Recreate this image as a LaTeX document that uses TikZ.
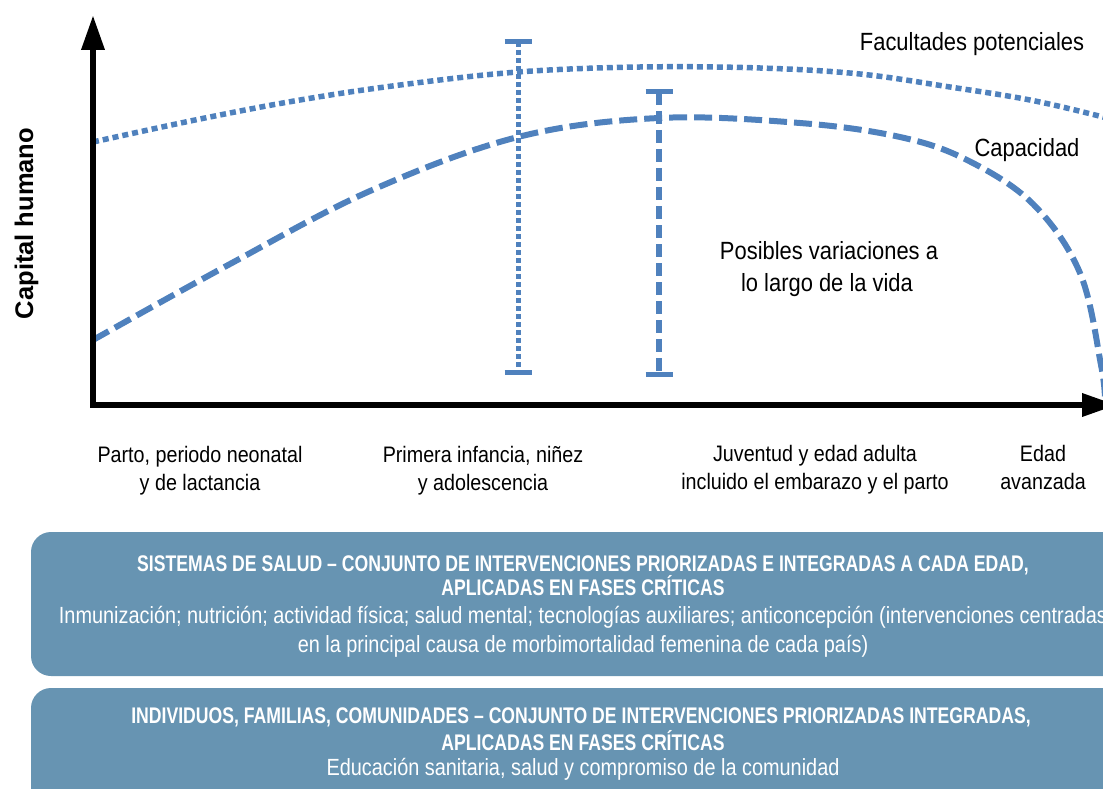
\documentclass[tikz,border=0pt]{standalone}
\usepackage{fontspec}
\setmainfont{Liberation Sans}
\newfontfamily\lblfont{Liberation Sans}[FakeStretch=0.88]
\newfontfamily\headfont{Liberation Sans}[FakeStretch=0.78]
\newfontfamily\bodyfont{Liberation Sans}[FakeStretch=0.85]
\usetikzlibrary{arrows.meta}
\definecolor{curveblue}{RGB}{79,129,189}
\definecolor{boxblue}{RGB}{103,148,178}

\begin{document}
\begin{tikzpicture}[x=1pt,y=-1pt,
  axis/.style={line width=6.5pt, black, {Triangle[length=35pt,width=22pt]}-{Triangle[length=35pt,width=22pt]}},
  potline/.style={curveblue, line width=5.5pt, dash pattern=on 6pt off 4pt},
  capline/.style={curveblue, line width=6pt, dash pattern=on 18pt off 7pt},
  potbar/.style={curveblue, line width=5pt, dash pattern=on 4.7pt off 3.3pt},
  capbar/.style={curveblue, line width=6pt, dash pattern=on 13pt off 6pt},
  barcap/.style={curveblue, line width=5pt},
  curvelbl/.style={font=\lblfont\fontsize{24.9}{30}\selectfont, anchor=base, inner sep=0pt},
  stagelbl/.style={font=\lblfont\fontsize{22.4}{28}\selectfont, anchor=base, inner sep=0pt},
  headtxt/.style={font=\headfont\bfseries\fontsize{22.6}{26}\selectfont, white, anchor=base, inner sep=0pt},
  bodytxt/.style={font=\bodyfont\fontsize{23.4}{28}\selectfont, white, anchor=base, inner sep=0pt}]

\useasboundingbox (0,0) rectangle (1103,789);
\clip (0,0) rectangle (1103,789);

\coordinate (O) at (93,405);
\coordinate (Y) at (93,15);
\coordinate (X) at (1117,405);
\coordinate (P) at (518,42);
\coordinate (Q) at (518,372);
\coordinate (R) at (659,92);
\coordinate (S) at (659,374);

\draw [potline] plot [smooth, tension=0.6] coordinates {(93,142) (200,119) (300,100) (400,85) (518,72) (640,67) (760,68) (860,74) (950,87) (1030,100) (1103,117) (1140,128)};
\draw [capline] plot [smooth, tension=0.6] coordinates {(93,340) (230,264) (370,191) (518,137) (659,118) (800,123) (900,137) (967,160) (1033,204) (1080,273) (1101,365) (1105,400)};

\draw [potbar] (P) -- (Q);
\draw [capbar] (R) -- (S);
\draw [barcap] ([xshift=-13.5pt]P) -- ([xshift=13.5pt]P);
\draw [barcap] ([xshift=-13.5pt]Q) -- ([xshift=13.5pt]Q);
\draw [barcap] ([xshift=-13.5pt]R) -- ([xshift=13.5pt]R);
\draw [barcap] ([xshift=-13.5pt]S) -- ([xshift=13.5pt]S);

\draw [axis] (Y) -- (O) -- (X);

\node [font=\bfseries\fontsize{25.5}{30}\selectfont, rotate=90, anchor=base, inner sep=0pt] (cap) at (33,223.5) {Capital humano};

\node [curvelbl] (fac) at (972,51) {Facultades potenciales};
\node [curvelbl] (capac) at (1027,157) {Capacidad};
\node [curvelbl] (var1) at (829,259) {Posibles variaciones a};
\node [curvelbl] (var2) at (827,291) {lo largo de la vida};

\node [stagelbl] (parto1) at (200,462) {Parto, periodo neonatal};
\node [stagelbl] (parto2) at (200,490) {y de lactancia};
\node [stagelbl] (inf1) at (483,462) {Primera infancia, niñez};
\node [stagelbl] (inf2) at (483,490) {y adolescencia};
\node [stagelbl] (juv1) at (815,461) {Juventud y edad adulta};
\node [stagelbl] (juv2) at (815,489) {incluido el embarazo y el parto};
\node [stagelbl] (edad1) at (1043,461) {Edad};
\node [stagelbl] (edad2) at (1043,489) {avanzada};

\fill [boxblue, rounded corners=20pt] (31,532) rectangle (1135,676);
\fill [boxblue, rounded corners=20pt] (31,688) rectangle (1135,830);

\node [headtxt] (salud1) at (583,571) {SISTEMAS DE SALUD – CONJUNTO DE INTERVENCIONES PRIORIZADAS E INTEGRADAS A CADA EDAD,};
\node [headtxt] (salud2) at (583,595) {APLICADAS EN FASES CRÍTICAS};
\node [bodytxt] (salud3) at (583,623) {Inmunización; nutrición; actividad física; salud mental; tecnologías auxiliares; anticoncepción (intervenciones centradas};
\node [bodytxt] (salud4) at (583,652) {en la principal causa de morbimortalidad femenina de cada país)};

\node [headtxt] (indiv1) at (581,723) {INDIVIDUOS, FAMILIAS, COMUNIDADES – CONJUNTO DE INTERVENCIONES PRIORIZADAS INTEGRADAS,};
\node [headtxt] (indiv2) at (583,750) {APLICADAS EN FASES CRÍTICAS};
\node [bodytxt] (indiv3) at (583,775) {Educación sanitaria, salud y compromiso de la comunidad};
\end{tikzpicture}
\end{document}
